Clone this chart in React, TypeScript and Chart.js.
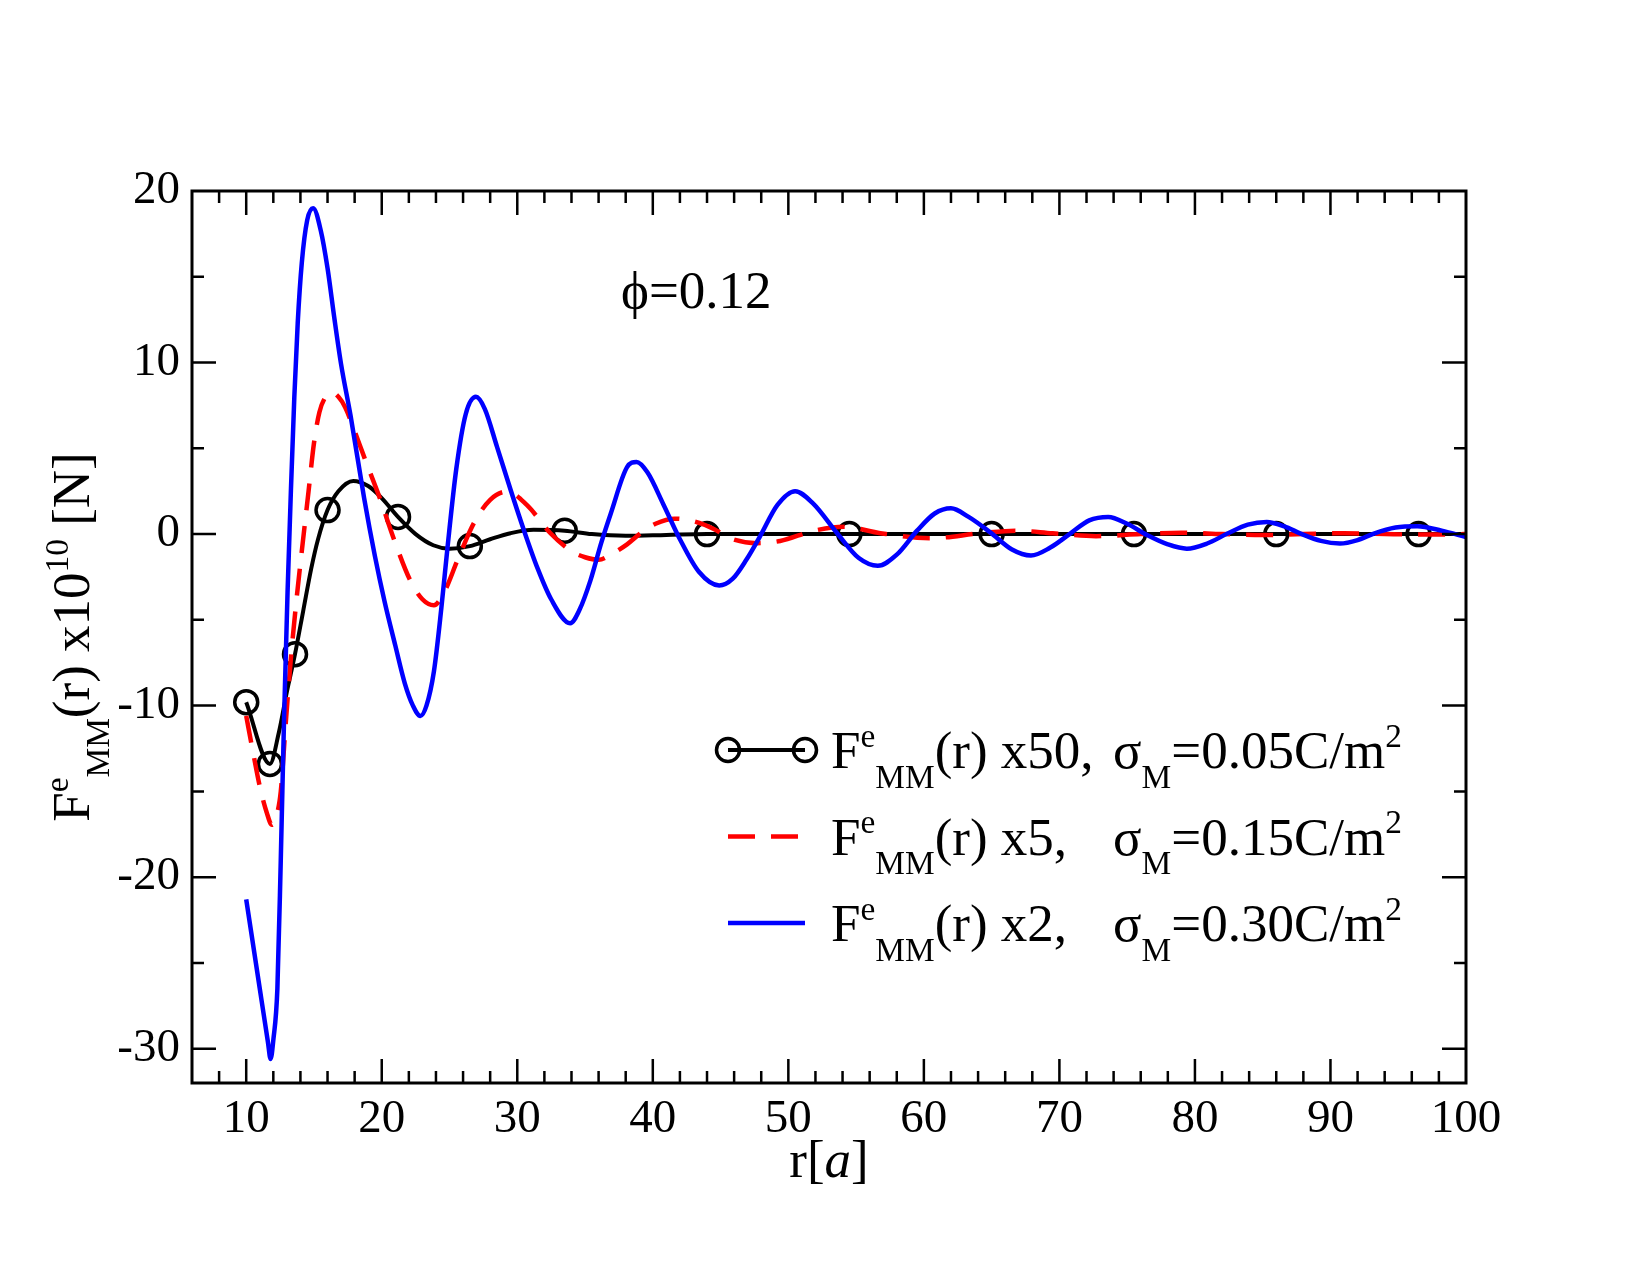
import React, { useEffect, useRef } from 'react';
import { Chart, registerables } from 'chart.js';

Chart.register(...registerables);

const FONT = '"Liberation Serif", "Times New Roman", Times, serif';

// Axis ticks
const xTicks = [10, 20, 30, 40, 50, 60, 70, 80, 90, 100];
const yTicks = [-30, -20, -10, 0, 10, 20];

// F^e_MM(r) x50, sigma_M = 0.05 C/m^2
const rBlack = [10, 11.75, 12.4, 13.0, 13.6, 14.2, 14.8, 15.3, 16.0, 16.8, 17.9, 19.0, 20.0, 21.2, 22.5, 23.8, 25.0, 26.5, 28.0, 29.5, 31.2, 33.5, 35.5, 38.0, 41.0, 44.0, 54.5, 65.0, 75.5, 86.0, 96.5, 100];
const fBlack = [-9.8, -13.4, -11.6, -9.2, -7.0, -4.5, -2.0, -0.3, 1.4, 2.5, 3.1, 2.8, 2.1, 1.0, 0.0, -0.65, -0.85, -0.7, -0.3, 0.05, 0.25, 0.2, 0.0, -0.1, -0.05, 0.0, 0.0, 0.0, 0.0, 0.0, 0.0, 0.0];
// r values where the circle symbols sit
const blackSymbolR = [10, 11.75, 13.6, 16.0, 21.2, 26.5, 33.5, 44.0, 54.5, 65.0, 75.5, 86.0, 96.5];

// F^e_MM(r) x5, sigma_M = 0.15 C/m^2
const rRed = [10, 10.5, 11.0, 11.5, 11.9, 12.2, 12.55, 12.9, 13.3, 13.7, 14.1, 14.6, 15.0, 15.4, 15.9, 16.35, 16.8, 17.3, 18.0, 18.7, 19.9, 20.9, 22.1, 23.0, 23.85, 24.6, 25.6, 26.8, 28.0, 29.25, 30.7, 32.45, 34.0, 35.0, 36.0, 37.0, 38.1, 39.1, 40.2, 41.6, 43.0, 44.5, 45.7, 47.7, 49.4, 51.9, 54.1, 56.8, 60.5, 64.2, 66.8, 69.5, 72.7, 76.0, 79.0, 82.0, 85.0, 88.0, 91.0, 94.0, 97.0, 100];
const fRed = [-10.6, -12.7, -14.7, -16.2, -16.95, -16.5, -15.0, -11.2, -7.2, -3.9, -1.0, 2.5, 5.3, 7.1, 8.05, 8.25, 8.0, 7.4, 6.0, 4.5, 2.0, -0.3, -2.7, -3.8, -4.15, -3.4, -1.5, 0.64, 2.0, 2.48, 1.7, 0.05, -1.0, -1.35, -1.5, -1.15, -0.6, 0.05, 0.6, 0.9, 0.75, 0.3, -0.24, -0.53, -0.4, 0.2, 0.43, 0.05, -0.24, 0.05, 0.2, 0.05, -0.12, 0.0, 0.08, 0.0, -0.06, 0.0, 0.05, 0.0, -0.03, 0.0];

// F^e_MM(r) x2, sigma_M = 0.30 C/m^2
const rBlue = [10, 11.0, 11.6, 11.8, 12.0, 12.3, 12.55, 12.8, 13.05, 13.3, 13.55, 13.8, 14.1, 14.5, 14.94, 15.5, 16.0, 16.5, 17.0, 17.7, 18.7, 19.5, 20.2, 21.0, 21.7, 22.3, 22.85, 23.3, 23.85, 24.4, 24.85, 25.5, 26.2, 26.95, 27.6, 28.5, 29.5, 30.5, 31.5, 32.5, 33.9, 34.6, 35.4, 36.2, 36.9, 38.1, 38.8, 39.6, 40.8, 42.0, 43.4, 44.9, 45.9, 46.9, 47.9, 49.2, 50.5, 51.8, 53.6, 55.2, 56.6, 58.0, 59.5, 60.8, 62.0, 63.3, 64.9, 66.5, 67.9, 69.3, 70.8, 72.2, 73.6, 75.0, 76.5, 78.0, 79.4, 80.9, 82.4, 83.9, 85.3, 86.6, 87.8, 89.3, 90.7, 92.0, 93.2, 94.8, 96.4, 98.2, 100];
const fBlue = [-21.3, -26.5, -29.6, -30.6, -29.5, -26.5, -19.0, -10.5, -3.4, 2.6, 8.0, 12.3, 15.8, 18.3, 19.0, 17.7, 15.5, 12.6, 9.9, 6.9, 2.1, -1.3, -3.9, -6.5, -8.7, -10.0, -10.6, -10.0, -8.0, -4.3, -0.8, 3.8, 7.0, 8.0, 7.3, 5.1, 2.6, 0.2, -2.0, -3.8, -5.2, -4.4, -2.7, -0.5, 1.2, 3.9, 4.2, 3.6, 1.7, -0.3, -2.2, -3.0, -2.6, -1.5, -0.15, 1.7, 2.5, 1.8, 0.05, -1.4, -1.85, -1.2, 0.2, 1.2, 1.5, 1.0, 0.1, -0.9, -1.25, -0.8, 0.03, 0.8, 1.0, 0.6, -0.07, -0.6, -0.85, -0.55, 0.03, 0.55, 0.71, 0.45, 0.03, -0.4, -0.55, -0.35, 0.03, 0.38, 0.46, 0.2, -0.17];

const toPoints = (xs: number[], ys: number[]) => xs.map((x, i) => ({ x, y: ys[i] }));

type Run = { t: string; k?: 'sup' | 'sub'; it?: boolean };

function runFont(r: Run, size: number) {
  const s = r.k ? size * 0.63 : size;
  return `${r.it ? 'italic ' : ''}${s}px ${FONT}`;
}

function runsWidth(ctx: CanvasRenderingContext2D, runs: Run[], size: number) {
  let w = 0;
  for (const r of runs) {
    ctx.font = runFont(r, size);
    w += ctx.measureText(r.t).width;
  }
  return w;
}

function drawRuns(ctx: CanvasRenderingContext2D, runs: Run[], x: number, y: number, size: number) {
  let cx = x;
  ctx.textAlign = 'left';
  ctx.textBaseline = 'alphabetic';
  for (const r of runs) {
    const dy = r.k === 'sup' ? -size * 0.4 : r.k === 'sub' ? size * 0.37 : 0;
    ctx.font = runFont(r, size);
    ctx.fillText(r.t, cx, y + dy);
    cx += ctx.measureText(r.t).width;
  }
  return cx - x;
}

const TEXT = 53;

const fmm: Run[] = [{ t: 'F' }, { t: 'e', k: 'sup' }, { t: 'MM', k: 'sub' }];
const legendRows = [
  { left: [...fmm, { t: '(r) x50,' }], right: [{ t: 'σ' }, { t: 'M', k: 'sub' }, { t: '=0.05C/m' }, { t: '2', k: 'sup' }] },
  { left: [...fmm, { t: '(r) x5,' }], right: [{ t: 'σ' }, { t: 'M', k: 'sub' }, { t: '=0.15C/m' }, { t: '2', k: 'sup' }] },
  { left: [...fmm, { t: '(r) x2,' }], right: [{ t: 'σ' }, { t: 'M', k: 'sub' }, { t: '=0.30C/m' }, { t: '2', k: 'sup' }] },
] as { left: Run[]; right: Run[] }[];

const yTitle: Run[] = [...fmm, { t: '(r) x10' }, { t: '10', k: 'sup' }, { t: ' [N]' }];
const xTitle: Run[] = [{ t: 'r[' }, { t: 'a', it: true }, { t: ']' }];

const framePlugin = {
  id: 'frameAndText',
  afterDatasetsDraw(chart: any) {
    const { ctx, chartArea: a, scales } = chart;
    const xs = scales.x;
    const ys = scales.y;
    const MAJ = 24;
    const MIN = 12;
    ctx.save();
    ctx.strokeStyle = '#000';
    ctx.fillStyle = '#000';
    ctx.setLineDash([]);
    ctx.lineCap = 'butt';

    // inward ticks on all four sides
    ctx.lineWidth = 2.5;
    ctx.beginPath();
    for (let v = 8; v < 100; v += 2) {
      const len = v % 10 === 0 ? MAJ : MIN;
      const px = xs.getPixelForValue(v);
      ctx.moveTo(px, a.bottom);
      ctx.lineTo(px, a.bottom - len);
      ctx.moveTo(px, a.top);
      ctx.lineTo(px, a.top + len);
    }
    for (let v = -30; v < 20; v += 5) {
      const len = v % 10 === 0 ? MAJ : MIN;
      const py = ys.getPixelForValue(v);
      ctx.moveTo(a.left, py);
      ctx.lineTo(a.left + len, py);
      ctx.moveTo(a.right, py);
      ctx.lineTo(a.right - len, py);
    }
    ctx.stroke();

    ctx.lineWidth = 3;
    ctx.strokeRect(a.left, a.top, a.right - a.left, a.bottom - a.top);

    // annotation
    ctx.font = `${TEXT}px ${FONT}`;
    ctx.textAlign = 'left';
    ctx.textBaseline = 'alphabetic';
    ctx.fillText('ϕ=0.12', 621, 308);

    // legend
    const rowsY = [750, 836.5, 923];
    const symL = 728;
    const symR = 805;
    const textX = 831;
    const sigmaX = 1113;
    rowsY.forEach((y, i) => {
      ctx.save();
      if (i === 0) {
        ctx.strokeStyle = '#000';
        ctx.lineWidth = 4;
        ctx.beginPath();
        ctx.moveTo(symL, y);
        ctx.lineTo(symR, y);
        ctx.stroke();
        ctx.lineWidth = 3.5;
        for (const cx of [symL, symR]) {
          ctx.beginPath();
          ctx.arc(cx, y, 11.5, 0, Math.PI * 2);
          ctx.stroke();
        }
      } else if (i === 1) {
        ctx.strokeStyle = '#ff0000';
        ctx.lineWidth = 4.5;
        ctx.setLineDash([27, 16]);
        ctx.beginPath();
        ctx.moveTo(symL, y);
        ctx.lineTo(symR, y);
        ctx.stroke();
      } else {
        ctx.strokeStyle = '#0000ff';
        ctx.lineWidth = 4.5;
        ctx.beginPath();
        ctx.moveTo(symL, y);
        ctx.lineTo(symR, y);
        ctx.stroke();
      }
      ctx.restore();
      drawRuns(ctx, legendRows[i].left, textX, y + 18, TEXT);
      drawRuns(ctx, legendRows[i].right, sigmaX, y + 18, TEXT);
    });

    // x axis title
    const xw = runsWidth(ctx, xTitle, TEXT);
    drawRuns(ctx, xTitle, (a.left + a.right) / 2 - xw / 2, 1177, TEXT);

    // y axis title, rotated
    const yw = runsWidth(ctx, yTitle, TEXT);
    ctx.save();
    ctx.translate(89, (a.top + a.bottom) / 2);
    ctx.rotate(-Math.PI / 2);
    drawRuns(ctx, yTitle, -yw / 2, 0, TEXT);
    ctx.restore();

    ctx.restore();
  },
};

export default function App() {
  const ref = useRef<HTMLCanvasElement>(null);

  useEffect(() => {
    const canvas = ref.current;
    if (!canvas) return;
    const tickFont = { family: FONT, size: 47 };
    const chart = new Chart(canvas, {
      type: 'line',
      data: {
        datasets: [
          {
            label: 'x2, 0.30',
            data: toPoints(rBlue, fBlue),
            borderColor: '#0000ff',
            borderWidth: 4.5,
            pointRadius: 0,
            fill: false,
            cubicInterpolationMode: 'monotone',
            order: 1,
          },
          {
            label: 'x5, 0.15',
            data: toPoints(rRed, fRed),
            borderColor: '#ff0000',
            borderWidth: 4.5,
            borderDash: [27, 16],
            pointRadius: 0,
            fill: false,
            cubicInterpolationMode: 'monotone',
            order: 2,
          },
          {
            label: 'x50, 0.05',
            data: toPoints(rBlack, fBlack),
            borderColor: '#000000',
            borderWidth: 4,
            pointRadius: (c: any) => (blackSymbolR.includes(c.raw?.x) ? 11.5 : 0),
            pointBorderWidth: 3.5,
            pointBorderColor: '#000000',
            pointBackgroundColor: 'rgba(0,0,0,0)',
            fill: false,
            cubicInterpolationMode: 'monotone',
            order: 3,
          },
        ] as any,
      },
      options: {
        animation: false,
        responsive: false,
        devicePixelRatio: 1,
        events: [],
        parsing: false as any,
        layout: { padding: { top: 191, right: 184, left: 0, bottom: 0 } },
        plugins: { legend: { display: false }, tooltip: { enabled: false } },
        scales: {
          x: {
            type: 'linear',
            min: 6,
            max: 100,
            afterBuildTicks: (s: any) => {
              s.ticks = xTicks.map((v) => ({ value: v }));
            },
            afterFit: (s: any) => {
              s.height = 192;
            },
            grid: { display: false, drawTicks: false },
            border: { display: false },
            ticks: {
              font: tickFont,
              color: '#000',
              padding: 8,
              maxRotation: 0,
              autoSkip: false,
              callback: (v: any) => String(v),
            },
          },
          y: {
            type: 'linear',
            min: -32,
            max: 20,
            afterBuildTicks: (s: any) => {
              s.ticks = yTicks.map((v) => ({ value: v }));
            },
            afterFit: (s: any) => {
              s.width = 192;
            },
            grid: { display: false, drawTicks: false },
            border: { display: false },
            ticks: {
              font: tickFont,
              color: '#000',
              padding: 12,
              autoSkip: false,
              callback: (v: any) => String(v),
            },
          },
        },
      },
      plugins: [framePlugin],
    });
    return () => chart.destroy();
  }, []);

  return (
    <div style={{ position: 'absolute', left: 0, top: 0, width: 1650, height: 1275, background: '#ffffff' }}>
      <canvas ref={ref} width={1650} height={1275} style={{ display: 'block', width: 1650, height: 1275 }} />
    </div>
  );
}
